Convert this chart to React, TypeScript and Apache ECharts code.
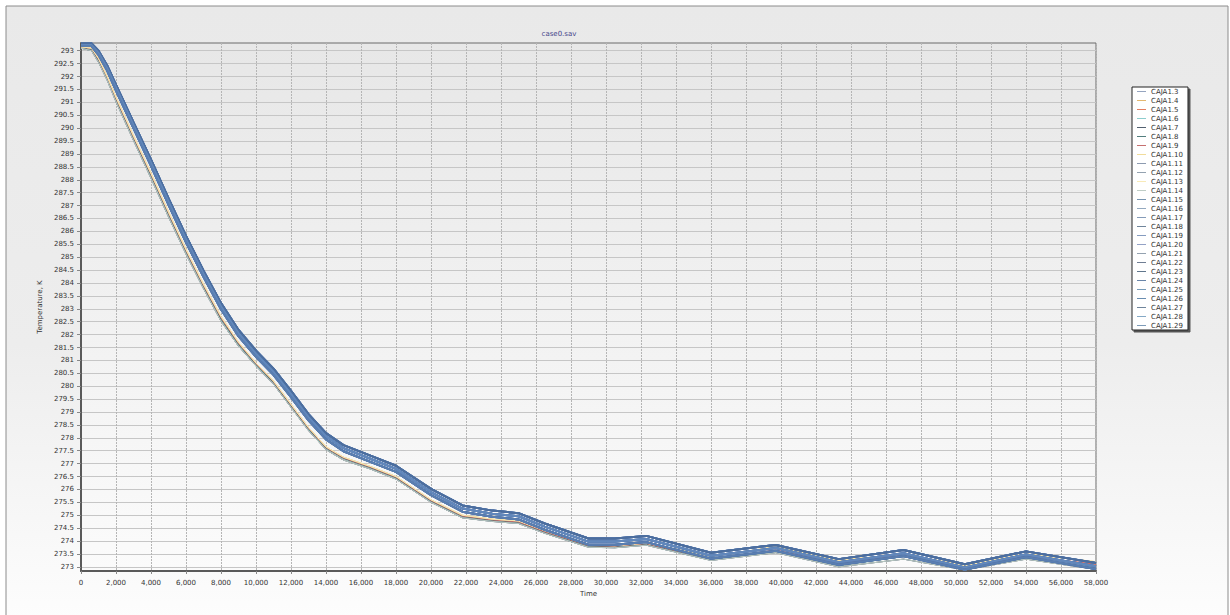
import React, { useEffect, useRef } from "react";
import * as echarts from "echarts";

const times = [0, 600, 1000, 1500, 2000, 3000, 4000, 5000, 6000, 7000, 8000, 9000, 10000, 11000, 12000, 13000, 14000, 15000, 16500, 18000, 20000, 21800, 23500, 25000, 26500, 29000, 30500, 32300, 36000, 39700, 43300, 47000, 50500, 54000, 58000];

const bandTop = [293.28, 293.28, 293.0, 292.42, 291.68, 290.22, 288.78, 287.28, 285.82, 284.48, 283.22, 282.18, 281.38, 280.68, 279.82, 278.92, 278.18, 277.72, 277.32, 276.92, 276.02, 275.38, 275.18, 275.08, 274.68, 274.1, 274.1, 274.2, 273.55, 273.85, 273.3, 273.65, 273.1, 273.6, 273.15];
const bandMid = [293.22, 293.22, 292.92, 292.32, 291.58, 290.12, 288.66, 287.16, 285.7, 284.36, 283.1, 282.06, 281.26, 280.56, 279.7, 278.8, 278.06, 277.6, 277.2, 276.8, 275.9, 275.26, 275.06, 274.96, 274.56, 273.98, 273.98, 274.08, 273.43, 273.73, 273.18, 273.53, 272.98, 273.48, 273.02];
const bandLow = [293.18, 293.18, 292.84, 292.22, 291.46, 290.0, 288.54, 287.04, 285.58, 284.24, 282.98, 281.94, 281.14, 280.44, 279.58, 278.68, 277.94, 277.48, 277.08, 276.68, 275.78, 275.14, 274.94, 274.84, 274.44, 273.86, 273.86, 273.96, 273.32, 273.62, 273.08, 273.42, 272.9, 273.38, 272.92];
const orangeLine = [293.15, 293.1, 292.7, 292.0, 291.2, 289.7, 288.25, 286.75, 285.3, 283.95, 282.7, 281.7, 280.9, 280.2, 279.3, 278.4, 277.65, 277.25, 276.9, 276.5, 275.6, 275.0, 274.85, 274.78, 274.4, 273.85, 273.82, 273.92, 273.4, 273.78, 273.25, 273.5, 273.05, 273.5, 273.2];
const redLine = [293.14, 293.08, 292.66, 291.96, 291.15, 289.65, 288.2, 286.7, 285.25, 283.9, 282.65, 281.66, 280.87, 280.17, 279.27, 278.37, 277.62, 277.22, 276.87, 276.47, 275.57, 274.97, 274.82, 274.74, 274.36, 273.82, 273.8, 273.9, 273.3, 273.65, 273.12, 273.45, 272.95, 273.42, 273.1];
const greenLine = [293.12, 293.05, 292.62, 291.92, 291.1, 289.6, 288.15, 286.65, 285.2, 283.85, 282.6, 281.62, 280.84, 280.14, 279.24, 278.34, 277.6, 277.2, 276.85, 276.45, 275.55, 274.95, 274.8, 274.72, 274.34, 273.8, 273.78, 273.88, 273.28, 273.6, 273.05, 273.4, 272.92, 273.35, 272.95];
const grayLine = [293.1, 293.0, 292.55, 291.85, 291.02, 289.52, 288.06, 286.56, 285.12, 283.78, 282.52, 281.55, 280.78, 280.08, 279.18, 278.28, 277.54, 277.14, 276.8, 276.4, 275.5, 274.9, 274.76, 274.68, 274.3, 273.76, 273.74, 273.84, 273.25, 273.55, 273.0, 273.3, 272.88, 273.3, 272.9];

const seriesNames = ["CAJA1.3", "CAJA1.4", "CAJA1.5", "CAJA1.6", "CAJA1.7", "CAJA1.8", "CAJA1.9", "CAJA1.10", "CAJA1.11", "CAJA1.12", "CAJA1.13", "CAJA1.14", "CAJA1.15", "CAJA1.16", "CAJA1.17", "CAJA1.18", "CAJA1.19", "CAJA1.20", "CAJA1.21", "CAJA1.22", "CAJA1.23", "CAJA1.24", "CAJA1.25", "CAJA1.26", "CAJA1.27", "CAJA1.28", "CAJA1.29"];
const seriesValues = [bandLow, orangeLine, redLine, greenLine, grayLine, greenLine, redLine, orangeLine, bandLow, grayLine, orangeLine, grayLine, bandTop, bandMid, bandLow, bandTop, bandMid, bandLow, bandTop, bandMid, bandLow, bandTop, bandMid, bandLow, bandTop, bandMid, bandLow];
const seriesColors = ["#8598b8", "#e2b866", "#e07a58", "#8fd0cc", "#44505e", "#3f7272", "#c46a6a", "#f2dc98", "#8496ae", "#8b9aa8", "#f6e6b4", "#b8c8c0", "#4a70b0", "#5a7db8", "#5276b2", "#4c6ea8", "#5a7cb8", "#6280bc", "#587aae", "#4a6a9c", "#46689a", "#4e72aa", "#5a80b4", "#4f76ae", "#4c6e9e", "#6288bc", "#5a7eb0"];
const legendColors = ["#8a9ab8", "#e0b060", "#e07050", "#80c8c8", "#405060", "#407070", "#c06060", "#f0d890", "#8090a8", "#8898a8", "#f8e8b0", "#b8c8c0", "#6888a8", "#88a0b8", "#7890b0", "#607890", "#7890b8", "#8898c0", "#8898a8", "#607088", "#506880", "#5878a0", "#6890b0", "#5880a8", "#607890", "#78a0c0", "#7090b0"];
const bandFlags = [false, false, false, false, false, false, false, false, false, false, false, false, true, true, true, true, true, true, true, true, true, true, true, true, true, true, true];

const yTicks = [273, 273.5, 274, 274.5, 275, 275.5, 276, 276.5, 277, 277.5, 278, 278.5, 279, 279.5, 280, 280.5, 281, 281.5, 282, 282.5, 283, 283.5, 284, 284.5, 285, 285.5, 286, 286.5, 287, 287.5, 288, 288.5, 289, 289.5, 290, 290.5, 291, 291.5, 292, 292.5, 293];

const chartTitle = "case0.sav";
const yName = "Temperature, K";
const xName = "Time";

export default function App() {
  const ref = useRef<HTMLDivElement>(null);
  useEffect(() => {
    if (!ref.current) return;
    const chart = echarts.init(ref.current, null, { renderer: "svg" });
    const font = "DejaVu Sans";
    const series = seriesNames.map((name, i) => ({
      name,
      type: "line",
      symbol: "none",
      data: times.map((t, k) => [t, seriesValues[i][k]]),
      lineStyle: { color: seriesColors[i], width: bandFlags[i] ? 2 : 1 },
      itemStyle: { color: seriesColors[i] },
      z: bandFlags[i] ? 3 : 2,
    }));
    chart.setOption({
      animation: false,
      backgroundColor: "#ffffff",
      graphic: [
        {
          type: "rect",
          shape: { x: 6, y: 6, width: 1222, height: 615 },
          style: {
            fill: new echarts.graphic.LinearGradient(0, 0, 0, 1, [
              { offset: 0, color: "#e9e9e9" },
              { offset: 0.55, color: "#ededed" },
              { offset: 1, color: "#fdfdfd" },
            ]),
            stroke: "#8c8c8c",
            lineWidth: 1,
          },
          z: -10,
          silent: true,
        },
        {
          type: "text",
          x: 559,
          y: 34,
          style: {
            text: chartTitle,
            fill: "#45458a",
            font: `7px "${font}"`,
            align: "center",
            verticalAlign: "middle",
          },
        },
      ],
      grid: {
        left: 81,
        right: 134,
        top: 43,
        bottom: 44,
        show: true,
        borderColor: "#6a6a6a",
        borderWidth: 1,
        backgroundColor: new echarts.graphic.LinearGradient(0, 0, 0, 1, [
          { offset: 0, color: "#e7e7e7" },
          { offset: 1, color: "#fbfbfb" },
        ]),
      },
      legend: {
        orient: "vertical",
        left: 1132,
        top: 87,
        icon: "path://M0,0L10,0L10,1L0,1Z",
        itemWidth: 9,
        itemHeight: 1,
        itemGap: 2,
        padding: [1, 5, 1, 5],
        backgroundColor: "#ffffff",
        borderColor: "#222222",
        borderWidth: 1,
        shadowColor: "#555555",
        shadowOffsetX: 2,
        shadowOffsetY: 2,
        shadowBlur: 0,
        textStyle: { fontFamily: font, fontSize: 7, color: "#333333" },
        data: seriesNames.map((n, i) => ({ name: n, itemStyle: { color: legendColors[i] } })),
      },
      xAxis: {
        type: "value",
        min: 0,
        max: 58000,
        interval: 2000,
        name: xName,
        nameLocation: "middle",
        nameGap: 17,
        nameTextStyle: { fontFamily: font, fontSize: 7, color: "#333333" },
        axisLine: { show: true, lineStyle: { color: "#5a5a5a", width: 2 } },
        axisTick: { show: true, length: 3, lineStyle: { color: "#888888" } },
        axisLabel: {
          fontFamily: font,
          fontSize: 7,
          color: "#333333",
          margin: 8,
          formatter: (v: number) => v.toLocaleString("en-US"),
        },
        splitLine: { show: true, lineStyle: { color: "#b5b5b5", type: [2, 1], width: 1 } },
      },
      yAxis: {
        type: "value",
        min: 272.84,
        max: 293.3,
        name: yName,
        nameLocation: "middle",
        nameGap: 31,
        nameRotate: 90,
        nameTextStyle: { fontFamily: font, fontSize: 7, color: "#333333" },
        axisLine: { show: true, lineStyle: { color: "#5a5a5a", width: 2 } },
        axisTick: { show: true, length: 4, lineStyle: { color: "#888888" }, customValues: yTicks },
        axisLabel: {
          fontFamily: font,
          fontSize: 7,
          color: "#333333",
          margin: 7,
          customValues: yTicks,
          formatter: (v: number) => String(v),
        },
        splitLine: { show: true, lineStyle: { color: "#c6c6c6", width: 1 } },
      },
      series,
    });
    return () => chart.dispose();
  }, []);
  return (
    <div
      ref={ref}
      style={{ position: "fixed", left: 0, top: 0, width: 1230, height: 615 }}
    />
  );
}
